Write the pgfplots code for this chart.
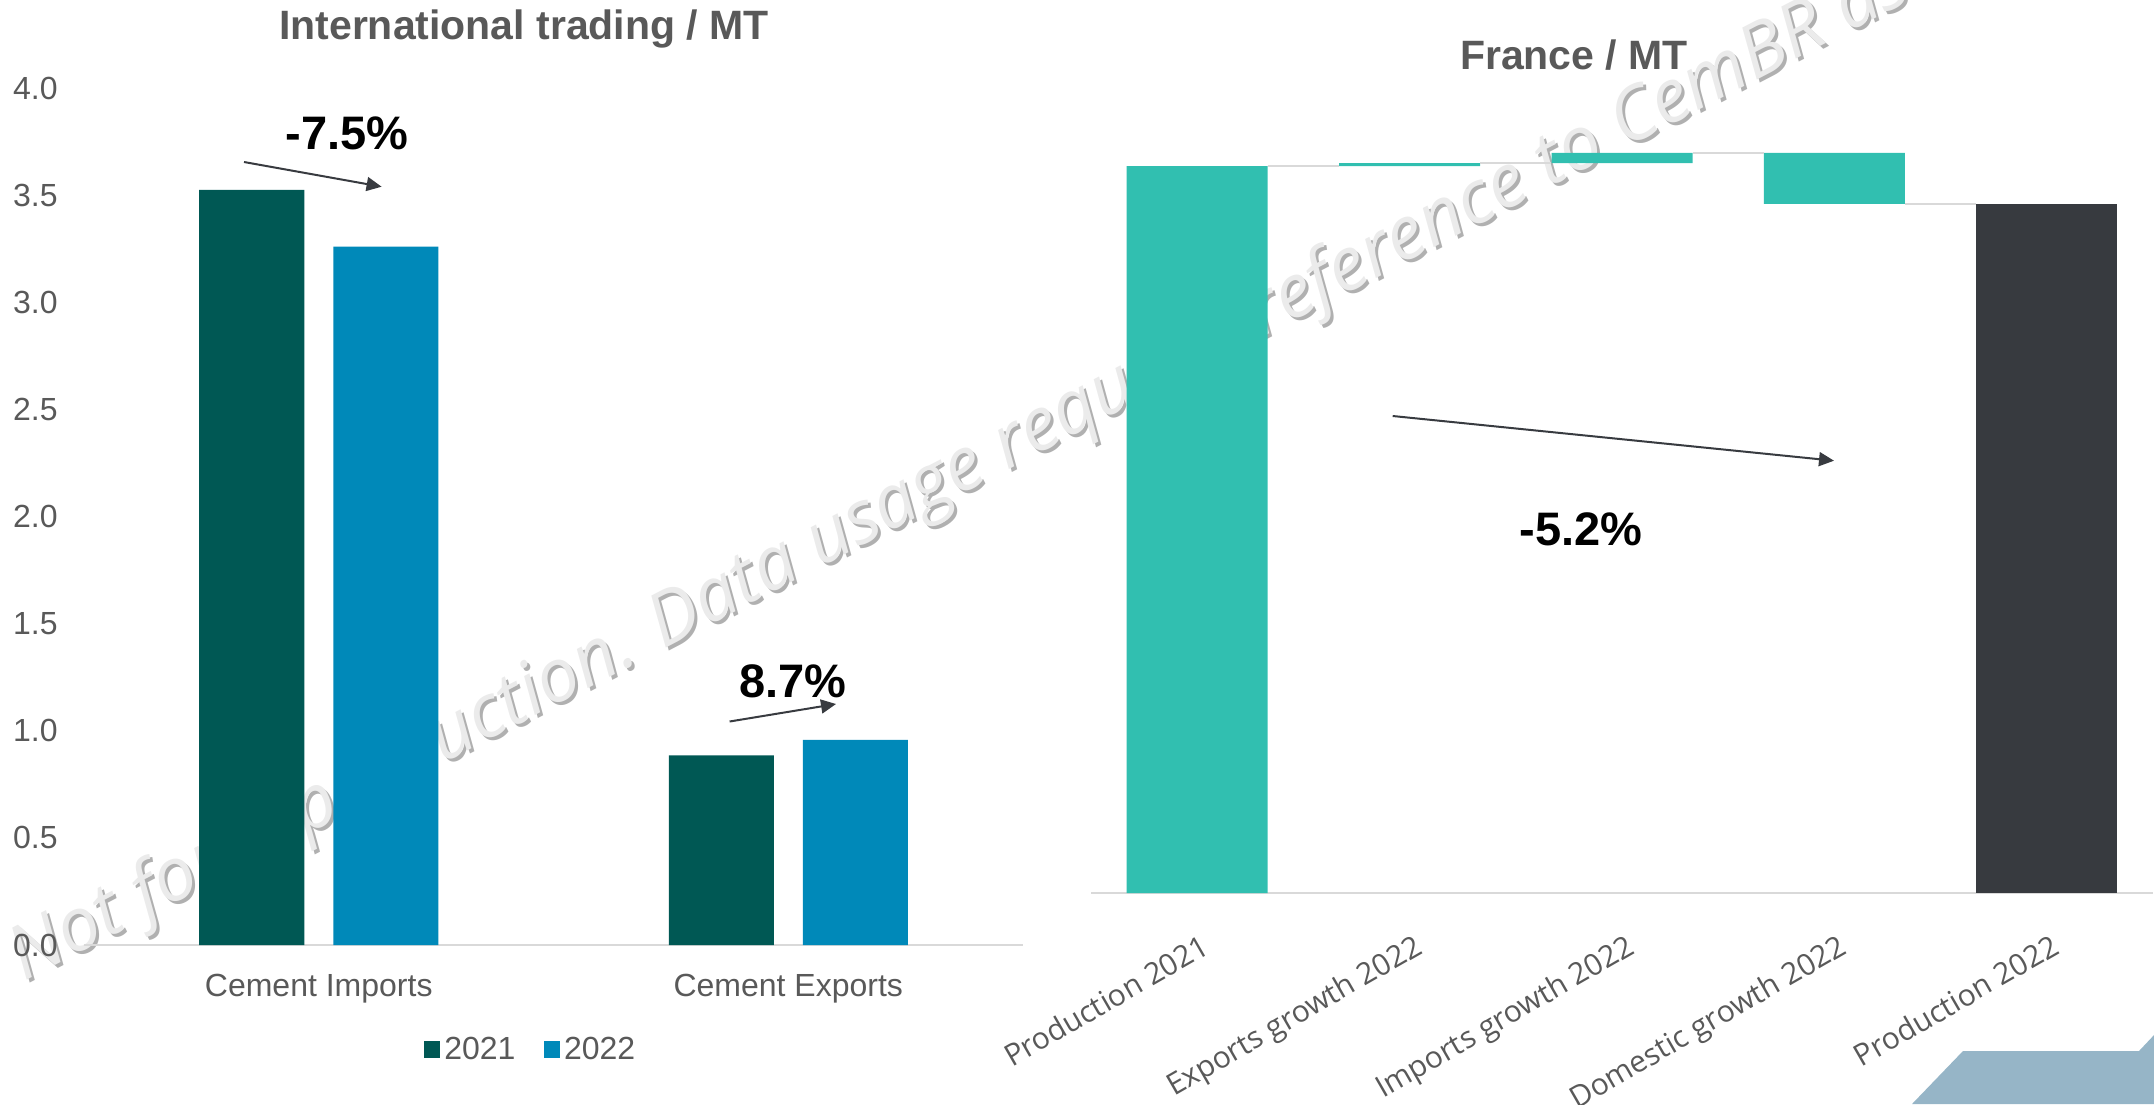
\documentclass[border=0pt]{standalone}
\usepackage{fontspec}
\setmainfont{Liberation Sans}
\newfontfamily\opensans{Open Sans}
\usepackage{pgfplots}
\pgfplotsset{compat=1.18}
\usetikzlibrary{arrows.meta}
\definecolor{cA}{HTML}{005854}
\definecolor{cB}{HTML}{0089B9}
\definecolor{wfTeal}{HTML}{31BFB0}
\definecolor{wfDark}{HTML}{373A3F}
\definecolor{lgrey}{HTML}{D9D9D9}
\definecolor{tgrey}{HTML}{595959}
\definecolor{agrey}{HTML}{383B40}
\definecolor{deco}{HTML}{96B5C7}
\definecolor{wmF}{HTML}{EBEBEB}
\definecolor{wmS}{HTML}{B0B0B0}
\begin{document}
\begin{tikzpicture}
\useasboundingbox (0,0) rectangle (1077pt,-552pt);
\begin{scope}[x=0.5pt,y=-0.5pt]
\node[rotate=27.5, anchor=base west, inner sep=0pt, text=wmS] at (27,985) {\fontsize{37}{37}\selectfont\opensans\itshape Not for reproduction. Data usage requires reference to CemBR as};
\node[rotate=27.5, anchor=base west, inner sep=0pt, text=wmF] at (24,982) {\fontsize{37}{37}\selectfont\opensans\itshape Not for reproduction. Data usage requires reference to CemBR as};
\fill[deco] (1912,1104) -- (1963,1051) -- (2139,1051) -- (2155,1034) -- (2160,1034) -- (2160,1104) -- cycle;
\end{scope}

% left chart
\begin{axis}[at={(42pt,-472.5pt)}, anchor=south west, scale only axis,
  width=469.5pt, height=428.5pt,
  xmin=-0.5, xmax=1.5, ymin=0, ymax=4,
  ybar, bar width=52.5pt,
  axis x line*=bottom, axis y line*=left,
  x axis line style={lgrey, line width=1pt},
  y axis line style={draw=none},
  xtick={0,1}, xticklabels={Cement Imports, Cement Exports},
  ytick={0,0.5,1,1.5,2,2.5,3,3.5,4},
  major tick length=0pt,
  /pgf/number format/.cd, fixed, fixed zerofill, precision=1, assume math mode=true,
  /pgfplots/.cd,
  yticklabel style={anchor=east, inner sep=0pt, xshift=-13pt, font=\fontsize{16}{16}\selectfont, text=tgrey},
  xticklabel style={anchor=north, inner sep=0pt, yshift=-14.5pt, font=\fontsize{16}{16}\selectfont, text=tgrey},
  legend image code/.code={\path[#1, draw=none] (0pt,-4.1pt) rectangle (8.3pt,4.1pt);},
  legend style={at={(0.4766,-0.122)}, anchor=center, draw=none, legend columns=2,
    font=\fontsize{16}{16}\selectfont, text=tgrey, inner sep=0pt,
    /tikz/every even column/.append style={column sep=12pt}},
]
\addplot[bar shift=-33.5pt, fill=cA, draw=none] coordinates {(0,3.525) (1,0.885)};
\addplot[bar shift=33.5pt, fill=cB, draw=none] coordinates {(0,3.260) (1,0.958)};
\legend{2021,2022}
\end{axis}

% right chart: waterfall
\begin{axis}[at={(545.5pt,-446.5pt)}, anchor=south west, scale only axis,
  width=531pt, height=420.9pt,
  xmin=-0.5, xmax=4.5, ymin=0, ymax=22,
  ybar stacked, bar width=70.5pt,
  axis x line*=bottom, axis y line*=left,
  x axis line style={lgrey, line width=1pt},
  y axis line style={draw=none},
  ytick=\empty,
  xtick={0,1,2,3,4},
  xticklabels={Production 2021, Exports growth 2022, Imports growth 2022, Domestic growth 2022, Production 2022},
  major tick length=0pt,
  xticklabel style={rotate=30, anchor=north east, inner sep=0pt, yshift=-17.75pt, xshift=-8.5pt, font=\opensans\fontsize{15}{15}\selectfont, text=tgrey},
]
\addplot[fill=none, draw=none] coordinates {(0,0) (1,19.000) (2,19.077) (3,18.012) (4,0)};
\addplot[fill=wfTeal, draw=none] coordinates {(0,19.000) (1,0.077) (2,0.265) (3,1.330) (4,0)};
\addplot[fill=wfDark, draw=none] coordinates {(0,0) (1,0) (2,0) (3,0) (4,18.012)};
\end{axis}

% connectors
\begin{axis}[at={(545.5pt,-446.5pt)}, anchor=south west, scale only axis,
  width=531pt, height=420.9pt,
  xmin=-0.5, xmax=4.5, ymin=0, ymax=22, hide axis]
\addplot[lgrey, line width=1pt] coordinates {(0.332,19.000) (0.668,19.000)};
\addplot[lgrey, line width=1pt] coordinates {(1.332,19.077) (1.668,19.077)};
\addplot[lgrey, line width=1pt] coordinates {(2.332,19.342) (2.668,19.342)};
\addplot[lgrey, line width=1pt] coordinates {(3.332,18.012) (3.668,18.012)};
\end{axis}

\begin{scope}[x=0.5pt,y=-0.5pt]
\node[font=\bfseries\fontsize{20.5}{20.5}\selectfont, text=tgrey] at (524,29) {International trading / MT};
\node[font=\bfseries\fontsize{20.5}{20.5}\selectfont, text=tgrey] at (1574,55) {France / MT};
\node[font=\bfseries\fontsize{23.5}{23.5}\selectfont] at (347,133) {-7.5\%};
\node[font=\bfseries\fontsize{23.5}{23.5}\selectfont] at (792.7,681) {8.7\%};
\node[font=\bfseries\fontsize{23.5}{23.5}\selectfont] at (1581,529) {-5.2\%};
\draw[agrey, line width=1pt, -{Triangle[length=7.5pt,width=7pt]}] (244,162) -- (381.6,186.7);
\draw[agrey, line width=1pt, -{Triangle[length=7.5pt,width=7pt]}] (729.6,721.5) -- (836,704);
\draw[agrey, line width=1pt, -{Triangle[length=7.5pt,width=7pt]}] (1392.7,416) -- (1834,460.7);
\end{scope}
\end{tikzpicture}
\end{document}
